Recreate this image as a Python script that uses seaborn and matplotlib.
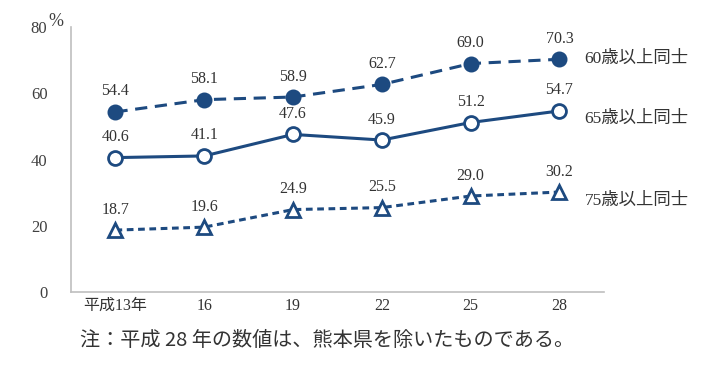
import numpy as np
import pandas as pd
import matplotlib
matplotlib.use("Agg")
import matplotlib.pyplot as plt
import seaborn as sns

years = ["平成13年", "16", "19", "22", "25", "28"]
v60 = [54.4, 58.1, 58.9, 62.7, 69.0, 70.3]
v65 = [40.6, 41.1, 47.6, 45.9, 51.2, 54.7]
v75 = [18.7, 19.6, 24.9, 25.5, 29.0, 30.2]
names = ["60歳以上同士", "65歳以上同士", "75歳以上同士"]
note = "注：平成 28 年の数値は、熊本県を除いたものである。"

sns.set_style("white")
plt.rcParams["font.family"] = ["Liberation Serif", "Noto Sans CJK JP", "DejaVu Sans"]

navy = "#1d4a80"
txt = "#333333"

fig = plt.figure(figsize=(7.18, 3.72), dpi=100)
ax = fig.add_axes([0.099, 0.215, 0.742, 0.712])

df = pd.DataFrame({"year": years * 3,
                   "value": v60 + v65 + v75,
                   "group": [names[0]] * 6 + [names[1]] * 6 + [names[2]] * 6})

styles = {
    names[0]: dict(marker="o", mfc=navy, dashes=(4, 2.5), ms=9.5),
    names[1]: dict(marker="o", mfc="white", dashes=(None, None), ms=10),
    names[2]: dict(marker="^", mfc="white", dashes=(2.2, 1.5), ms=9.5),
}

for g in names:
    sub = df[df.group == g]
    st = styles[g]
    sns.lineplot(data=sub, x="year", y="value", ax=ax, color=navy, lw=2.2,
                 marker=st["marker"], markersize=st["ms"], markerfacecolor=st["mfc"],
                 markeredgecolor=navy, markeredgewidth=2, legend=False)
    line = ax.lines[-1]
    if st["dashes"][0] is not None:
        line.set_dashes(st["dashes"])
    for i, v in enumerate(sub["value"]):
        ax.annotate(f"{v:.1f}", (i, v), xytext=(0, 9), textcoords="offset points",
                    ha="center", va="bottom", fontsize=11.5, color=txt)

# series labels at the right end
lab_off = {names[0]: 0, names[1]: -6, names[2]: -6}
for g in names:
    last = df[df.group == g]["value"].iloc[-1]
    ax.annotate(g, (5, last), xytext=(18, lab_off[g]), textcoords="offset points",
                ha="left", va="center", fontsize=12.5, color=txt, annotation_clip=False)

ax.set_xlim(-0.5, 5.5)
ax.set_ylim(0, 80)
ax.set_yticks([0, 20, 40, 60, 80])
ax.set_xticks(range(len(years)))
ax.set_xticklabels(years)
ax.set_xticks(np.arange(-0.5, 6, 1), minor=True)
ax.tick_params(axis="x", which="major", length=0, pad=4, labelsize=11.5, labelcolor=txt)
ax.tick_params(axis="x", which="minor", length=5, width=1, color="#bfbfbf", direction="out")
ax.tick_params(axis="y", length=4, width=1, color="#bfbfbf", direction="out",
               labelsize=12, labelcolor="#404040", pad=13)
ax.set_xlabel("")
ax.set_ylabel("")
for s in ["top", "right"]:
    ax.spines[s].set_visible(False)
for s in ["left", "bottom"]:
    ax.spines[s].set_color("#bfbfbf")
    ax.spines[s].set_linewidth(1.2)

ax.text(-0.014, 1.02, "%", transform=ax.transAxes, ha="right", va="center",
        fontsize=13, color="#404040")
fig.text(0.111, 0.086, note, ha="left", va="center", fontsize=14.5, color=txt,
         family=["Noto Sans CJK JP", "DejaVu Sans"])

fig.savefig("out.png", dpi=100, facecolor="white")
